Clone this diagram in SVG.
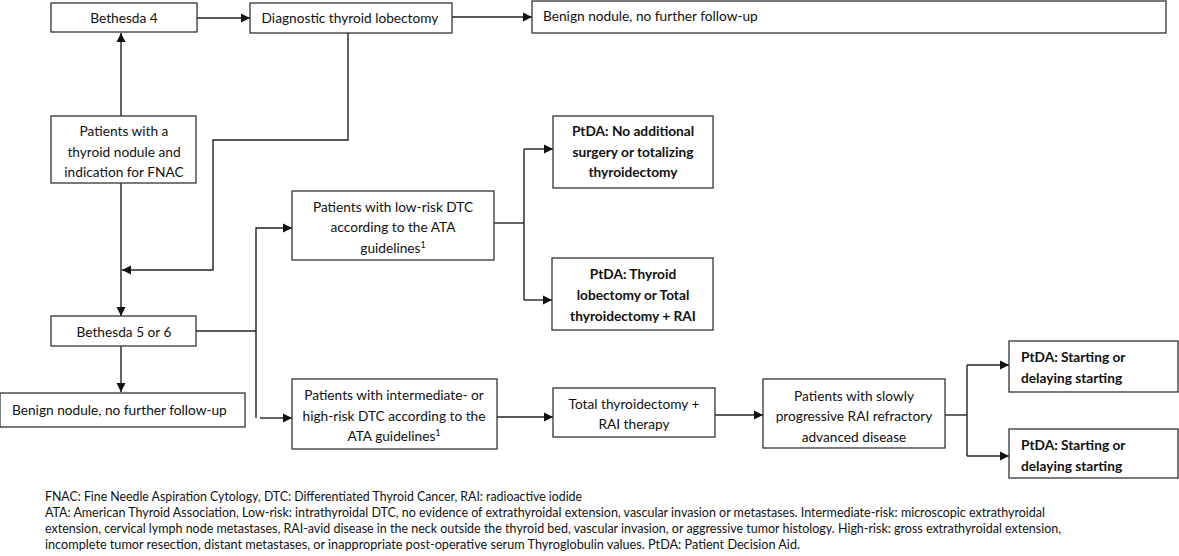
<svg xmlns="http://www.w3.org/2000/svg" width="1179" height="556" viewBox="0 0 1179 556">
<defs>
<style>
.box{fill:#fff;stroke:#333;stroke-width:1.3}
.t{font-family:Lato,"Liberation Sans",sans-serif;font-size:13.7px;fill:#111;text-anchor:middle}
.l{text-anchor:start}
.b{font-weight:bold}
.c{fill:none;stroke:#222;stroke-width:1.4}
.f{font-family:Lato,"Liberation Sans",sans-serif;font-size:12.4px;fill:#111}
</style>
<marker id="ah" markerUnits="userSpaceOnUse" markerWidth="10" markerHeight="10" refX="9" refY="5" orient="auto">
<path d="M0,0.5 L9,5 L0,9.5 Z" fill="#111"/>
</marker>
</defs>
<rect width="1179" height="556" fill="#fff"/>
<g id="connectors">
<path class="c" d="M121,116 V33" marker-end="url(#ah)"/>
<path class="c" d="M197,18 H250" marker-end="url(#ah)"/>
<path class="c" d="M452,17 H532" marker-end="url(#ah)"/>
<path class="c" d="M348,33 V140 H213 V270 H122" marker-end="url(#ah)"/>
<path class="c" d="M121,183 V316" marker-end="url(#ah)"/>
<path class="c" d="M121,346 V392" marker-end="url(#ah)"/>
<path class="c" d="M196,331 H256"/>
<path class="c" d="M256,418 V228 H292" marker-end="url(#ah)"/>
<path class="c" d="M260,418 H292" marker-end="url(#ah)"/>
<path class="c" d="M494,223 H524"/>
<path class="c" d="M524,149 V300"/>
<path class="c" d="M524,149 H553" marker-end="url(#ah)"/>
<path class="c" d="M524,300 H552" marker-end="url(#ah)"/>
<path class="c" d="M497,417 H553" marker-end="url(#ah)"/>
<path class="c" d="M715,415 H763" marker-end="url(#ah)"/>
<path class="c" d="M945,415 H967"/>
<path class="c" d="M967,365 V456"/>
<path class="c" d="M967,365 H1009" marker-end="url(#ah)"/>
<path class="c" d="M967,456 H1009" marker-end="url(#ah)"/>
</g>
<g id="n-bethesda4">
<rect class="box" x="51" y="3" width="146" height="29"/>
<text class="t" x="124" y="23">Bethesda 4</text>
</g>
<g id="n-diag">
<rect class="box" x="250" y="3" width="202" height="30"/>
<text class="t" x="350" y="23">Diagnostic thyroid lobectomy</text>
</g>
<g id="n-benign-top">
<rect class="box" x="532" y="1" width="634" height="32"/>
<text class="t l" x="543" y="21">Benign nodule, no further follow-up</text>
</g>
<g id="n-patients">
<rect class="box" x="51" y="116" width="145" height="67"/>
<text class="t" x="124" y="136">Patients with a</text>
<text class="t" x="124" y="157">thyroid nodule and</text>
<text class="t" x="124" y="177">indication for FNAC</text>
</g>
<g id="n-bethesda56">
<rect class="box" x="51" y="316" width="145" height="30"/>
<text class="t" x="124" y="337">Bethesda 5 or 6</text>
</g>
<g id="n-benign-bottom">
<rect class="box" x="0" y="393" width="245" height="34"/>
<text class="t l" x="12" y="415">Benign nodule, no further follow-up</text>
</g>
<g id="n-lowrisk">
<rect class="box" x="292" y="191" width="202" height="69"/>
<text class="t" x="393" y="212">Patients with low-risk DTC</text>
<text class="t" x="393" y="232">according to the ATA</text>
<text class="t" x="393" y="253">guidelines<tspan font-size="9" dy="-5">1</tspan></text>
</g>
<g id="n-ptda-noadd">
<rect class="box" x="553" y="116" width="160" height="72"/>
<text class="t b" x="633" y="136">PtDA: No additional</text>
<text class="t b" x="633" y="157">surgery or totalizing</text>
<text class="t b" x="633" y="177">thyroidectomy</text>
</g>
<g id="n-ptda-lob">
<rect class="box" x="552" y="258" width="161" height="72"/>
<text class="t b" x="633" y="279">PtDA: Thyroid</text>
<text class="t b" x="633" y="300">lobectomy or Total</text>
<text class="t b" x="633" y="321">thyroidectomy + RAI</text>
</g>
<g id="n-interm">
<rect class="box" x="292" y="379" width="205" height="70"/>
<text class="t" x="394" y="400">Patients with intermediate- or</text>
<text class="t" x="394" y="421">high-risk DTC according to the</text>
<text class="t" x="394" y="441">ATA guidelines<tspan font-size="9" dy="-5">1</tspan></text>
</g>
<g id="n-total">
<rect class="box" x="553" y="388" width="162" height="49"/>
<text class="t" x="634" y="409">Total thyroidectomy +</text>
<text class="t" x="634" y="429">RAI therapy</text>
</g>
<g id="n-slowly">
<rect class="box" x="763" y="379" width="182" height="69"/>
<text class="t" x="854" y="401">Patients with slowly</text>
<text class="t" x="854" y="421">progressive RAI refractory</text>
<text class="t" x="854" y="442">advanced disease</text>
</g>
<g id="n-ptda-start1">
<rect class="box" x="1009" y="341" width="169" height="51"/>
<text class="t b l" x="1021" y="362">PtDA: Starting or</text>
<text class="t b l" x="1021" y="383">delaying starting</text>
</g>
<g id="n-ptda-start2">
<rect class="box" x="1009" y="429" width="169" height="49"/>
<text class="t b l" x="1021" y="450">PtDA: Starting or</text>
<text class="t b l" x="1021" y="471">delaying starting</text>
</g>
<g id="footnote">
<text class="f" x="45" y="501" textLength="537" lengthAdjust="spacingAndGlyphs">FNAC: Fine Needle Aspiration Cytology, DTC: Differentiated Thyroid Cancer, RAI: radioactive iodide</text>
<text class="f" x="45" y="517" textLength="1000" lengthAdjust="spacingAndGlyphs">ATA: American Thyroid Association, Low-risk: intrathyroidal DTC, no evidence of extrathyroidal extension, vascular invasion or metastases. Intermediate-risk: microscopic extrathyroidal</text>
<text class="f" x="45" y="533" textLength="1016" lengthAdjust="spacingAndGlyphs">extension, cervical lymph node metastases, RAI-avid disease in the neck outside the thyroid bed, vascular invasion, or aggressive tumor histology. High-risk: gross extrathyroidal extension,</text>
<text class="f" x="45" y="549" textLength="755" lengthAdjust="spacingAndGlyphs">incomplete tumor resection, distant metastases, or inappropriate post-operative serum Thyroglobulin values. PtDA: Patient Decision Aid.</text>
</g>
</svg>
